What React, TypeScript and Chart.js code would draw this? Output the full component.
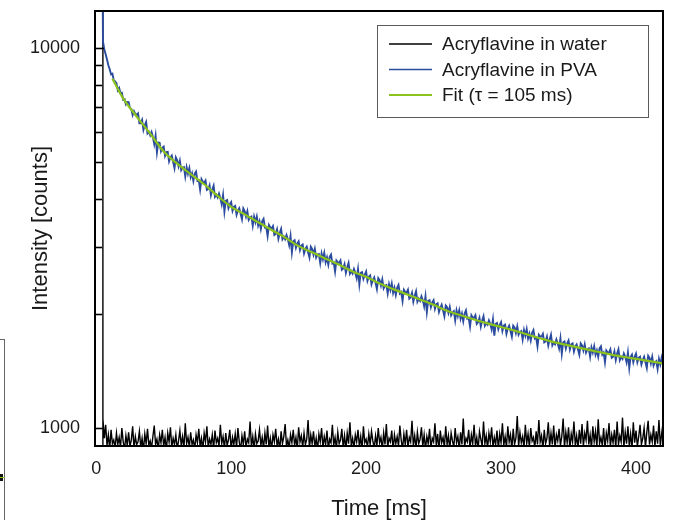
import React, { useEffect, useRef } from "react";
import { Chart, registerables } from "chart.js";

Chart.register(...registerables);

const FONT = "'Liberation Sans', Arial, Helvetica, sans-serif";

const SERIES_LABELS = ["Acryflavine in water", "Acryflavine in PVA", "Fit (\u03c4 = 105 ms)"];
const SERIES_COLORS = ["#000000", "#2b4c9e", "#8cc21c"];

const X_TICKS = [0, 100, 200, 300, 400];
const Y_TICKS = [1000, 2000, 3000, 4000, 5000, 6000, 7000, 8000, 9000, 10000];
const Y_LABELED = [1000, 10000];

// Acryflavine in water: rise edge, then one sample per ms starting at 5 ms
const WATER_LEAD_T = [4.6, 4.9];
const WATER_LEAD_V = [500, 40000];
const WATER_T0 = 5;
const WATER_STEP = 1;
const WATER_V = [
  1060, 940, 1020, 900, 960, 880, 990, 910, 930, 885, 970, 905, 945, 890, 1000, 920, 880, 955, 900, 975,
  895, 930, 1010, 885, 950, 905, 920, 980, 890, 940, 870, 965, 910, 995, 900, 925, 885, 950, 1015, 905,
  935, 880, 960, 915, 990, 895, 945, 875, 970, 920, 1005, 890, 940, 905, 960, 880, 925, 985, 900, 950,
  885, 1030, 910, 945, 890, 975, 905, 930, 880, 960, 915, 995, 895, 940, 875, 970, 920, 1010, 890, 935,
  905, 960, 880, 985, 915, 940, 895, 1020, 910, 950, 885, 970, 900, 930, 990, 880, 945, 905, 965, 890,
  1000, 920, 875, 955, 905, 980, 890, 935, 915, 1040, 895, 950, 880, 965, 910, 925, 990, 900, 945, 885,
  970, 905, 1015, 890, 940, 880, 960, 920, 995, 900, 935, 875, 980, 910, 950, 1025, 895, 930, 885, 960,
  915, 990, 900, 945, 880, 1005, 920, 955, 890, 970, 905, 935, 1050, 885, 960, 910, 980, 895, 940, 875,
  965, 920, 1000, 890, 950, 905, 985, 880, 935, 915, 1020, 900, 945, 885, 975, 910, 930, 995, 890, 955,
  880, 970, 910, 1035, 900, 940, 885, 960, 920, 990, 895, 950, 875, 1010, 915, 935, 890, 965, 905, 980,
  925, 885, 955, 900, 1000, 915, 945, 880, 970, 905, 1025, 890, 940, 920, 985, 875, 960, 910, 950, 895,
  1015, 930, 880, 965, 905, 990, 890, 945, 920, 1045, 900, 955, 885, 975, 910, 935, 1005, 895, 960, 880,
  950, 910, 995, 885, 940, 920, 1030, 900, 965, 875, 985, 915, 945, 890, 1010, 905, 955, 880, 970, 925,
  890, 1000, 915, 950, 880, 975, 905, 1060, 895, 940, 920, 990, 885, 960, 910, 1020, 900, 945, 875, 980,
  935, 895, 1040, 910, 955, 885, 970, 920, 1005, 890, 945, 905, 985, 880, 965, 915, 1030, 900, 950, 890,
  1010, 920, 960, 880, 995, 905, 940, 1075, 895, 975, 915, 950, 885, 1020, 910, 965, 890, 1000, 925, 945,
  885, 980, 905, 1050, 920, 955, 880, 990, 910, 940, 1035, 895, 970, 905, 1015, 885, 960, 925, 995, 900,
  950, 1060, 890, 975, 915, 1005, 880, 965, 920, 1040, 900, 955, 885, 990, 910, 1025, 895, 970, 930, 1045,
  905, 960, 885, 1010, 920, 980, 890, 1055, 910, 945, 900, 1000, 880, 970, 925, 1030, 895, 960, 915, 990,
  885, 1040, 905, 955, 920, 1065, 890, 975, 910, 1010, 900, 965, 880, 1035, 915, 985, 895, 950, 1020, 905,
  940, 1000, 890, 975, 1045, 905, 960, 920, 1015, 895, 980, 910, 1050, 900, 965, 1030, 920, 990,
];

// Acryflavine in PVA: rise edge, then one sample per ms starting at 6 ms
const PVA_LEAD_T = [4, 5];
const PVA_LEAD_V = [40000, 10400];
const PVA_T0 = 6;
const PVA_STEP = 1;
const PVA_V = [
  9900, 9620, 9330, 9010,
  8790, 8520, 8560, 8220, 8170, 8080, 7740, 7850, 7600, 7620,
  7300, 7330, 7110, 7210, 7200, 6950, 6910, 6660, 6820, 6710,
  6670, 6730, 6340, 6340, 6470, 6090, 6270, 6390, 5960, 6020,
  5890, 6010, 5830, 5590, 5880, 5310, 5640, 5630, 5350, 5460,
  5500, 5200, 5320, 5330, 5030, 5150, 5210, 5020, 4830, 5150,
  5060, 4880, 5050, 4770, 4840, 4860, 4590, 4850, 4670, 4830,
  4570, 4680, 4470, 4670, 4730, 4470, 4490, 4240, 4520, 4450,
  4420, 4480, 4230, 4250, 4350, 4100, 4240, 4340, 4060, 4110,
  4040, 4140, 4030, 3880, 4100, 3710, 3960, 3980, 3790, 3880,
  3930, 3730, 3820, 3840, 3640, 3740, 3790, 3660, 3540, 3780,
  3720, 3600, 3720, 3530, 3580, 3600, 3410, 3600, 3480, 3600,
  3410, 3500, 3340, 3500, 3550, 3370, 3380, 3200, 3420, 3370,
  3350, 3400, 3220, 3240, 3330, 3150, 3260, 3340, 3140, 3190,
  3140, 3220, 3140, 3030, 3200, 2900, 3100, 3120, 2980, 3060,
  3100, 2940, 3020, 3040, 2880, 2960, 3000, 2900, 2810, 3000,
  2960, 2860, 2960, 2810, 2860, 2870, 2720, 2880, 2780, 2890,
  2730, 2810, 2690, 2820, 2860, 2710, 2730, 2580, 2760, 2730,
  2720, 2760, 2610, 2630, 2700, 2560, 2650, 2720, 2550, 2590,
  2550, 2620, 2560, 2480, 2620, 2390, 2560, 2570, 2470, 2530,
  2580, 2440, 2500, 2520, 2390, 2450, 2490, 2410, 2320, 2480,
  2450, 2370, 2460, 2330, 2370, 2380, 2260, 2390, 2310, 2400,
  2270, 2340, 2240, 2340, 2380, 2260, 2280, 2160, 2310, 2280,
  2270, 2310, 2190, 2210, 2270, 2150, 2230, 2290, 2150, 2190,
  2160, 2220, 2170, 2090, 2220, 2020, 2160, 2170, 2080, 2140,
  2170, 2060, 2120, 2130, 2020, 2070, 2110, 2040, 1970, 2100,
  2080, 2010, 2080, 1980, 2010, 2030, 1920, 2040, 1970, 2040,
  1940, 2000, 1910, 2000, 2040, 1940, 1950, 1850, 1980, 1950,
  1950, 1980, 1880, 1900, 1950, 1850, 1920, 1970, 1860, 1890,
  1870, 1920, 1880, 1820, 1930, 1750, 1880, 1890, 1820, 1870,
  1900, 1800, 1860, 1870, 1770, 1830, 1860, 1800, 1740, 1860,
  1840, 1780, 1850, 1760, 1790, 1800, 1710, 1810, 1750, 1820,
  1720, 1770, 1700, 1780, 1810, 1720, 1730, 1640, 1760, 1740,
  1740, 1770, 1680, 1690, 1740, 1650, 1710, 1760, 1650, 1680,
  1660, 1710, 1670, 1620, 1720, 1570, 1680, 1690, 1620, 1670,
  1700, 1610, 1660, 1670, 1590, 1640, 1660, 1610, 1560, 1670,
  1650, 1600, 1660, 1580, 1610, 1620, 1540, 1630, 1580, 1640,
  1560, 1600, 1540, 1620, 1640, 1560, 1580, 1490, 1600, 1580,
  1580, 1610, 1530, 1540, 1590, 1510, 1570, 1610, 1510, 1540,
  1520, 1570, 1540, 1490, 1580, 1440, 1540, 1560, 1490, 1540,
  1570, 1490, 1530, 1540, 1470, 1510, 1540, 1490, 1440, 1550,
  1530, 1480, 1540, 1460, 1490, 1500, 1430, 1520, 1470, 1530,
  1470,
];

// Fit curve
const FIT_T = [12, 20, 30, 40, 50, 60, 70, 80, 90, 100, 110, 120, 130, 140, 150, 160, 170, 180, 190, 200,
  210, 220, 230, 240, 250, 260, 270, 280, 290, 300, 310, 320, 330, 340, 350, 360, 370, 380, 390, 400, 410, 420];
const FIT_V = [8300, 7370, 6600, 5950, 5340, 4960, 4660, 4380, 4080, 3820, 3650, 3480, 3320, 3170, 3010, 2900,
  2790, 2690, 2580, 2500, 2400, 2320, 2250, 2180, 2110, 2035, 1980, 1930, 1885, 1845, 1805, 1760, 1718, 1680,
  1650, 1620, 1592, 1565, 1540, 1520, 1500, 1480];

function sampled(leadT: number[], leadV: number[], t0: number, step: number, vals: number[]) {
  const pts = leadT.map((t, i) => ({ x: t, y: leadV[i] }));
  vals.forEach((v, i) => pts.push({ x: t0 + i * step, y: v }));
  return pts;
}

const framePlugin = {
  id: "frameAndLegend",
  afterDatasetsDraw(chart: any) {
    const { ctx, chartArea } = chart;
    const yScale = chart.scales.y;
    ctx.save();
    ctx.strokeStyle = "#000";
    ctx.lineWidth = 1.6;
    Y_TICKS.forEach((v) => {
      const y = Math.round(yScale.getPixelForValue(v)) + 0.5;
      const len = Y_LABELED.includes(v) ? 9 : 7;
      ctx.beginPath();
      ctx.moveTo(chartArea.left, y);
      ctx.lineTo(chartArea.left + len, y);
      ctx.stroke();
    });
    ctx.lineWidth = 2;
    ctx.strokeRect(chartArea.left, chartArea.top, chartArea.right - chartArea.left, chartArea.bottom - chartArea.top);

    const bx = 377, by = 25, bw = 271, bh = 92;
    ctx.fillStyle = "#fff";
    ctx.fillRect(bx, by, bw, bh);
    ctx.lineWidth = 1;
    ctx.strokeStyle = "#5a5a5a";
    ctx.strokeRect(bx + 0.5, by + 0.5, bw, bh);
    ctx.font = `19px ${FONT}`;
    ctx.textBaseline = "middle";
    ctx.textAlign = "left";
    SERIES_LABELS.forEach((label, i) => {
      const y = 44 + i * 25.5;
      ctx.strokeStyle = SERIES_COLORS[i];
      ctx.lineWidth = i === 2 ? 2 : 1.5;
      ctx.beginPath();
      ctx.moveTo(389, y);
      ctx.lineTo(432, y);
      ctx.stroke();
      ctx.fillStyle = "#1a1a1a";
      ctx.fillText(label, 442, y + 1);
    });
    ctx.restore();
  },
};

export default function App() {
  const ref = useRef<HTMLCanvasElement | null>(null);
  useEffect(() => {
    if (!ref.current) return;
    const chart = new Chart(ref.current, {
      type: "line",
      data: {
        datasets: [
          {
            label: SERIES_LABELS[0],
            data: sampled(WATER_LEAD_T, WATER_LEAD_V, WATER_T0, WATER_STEP, WATER_V),
            borderColor: SERIES_COLORS[0],
            borderWidth: 1.4,
            pointRadius: 0,
            tension: 0,
            order: 2,
          },
          {
            label: SERIES_LABELS[1],
            data: sampled(PVA_LEAD_T, PVA_LEAD_V, PVA_T0, PVA_STEP, PVA_V),
            borderColor: SERIES_COLORS[1],
            borderWidth: 1.9,
            pointRadius: 0,
            tension: 0,
            order: 1,
          },
          {
            label: SERIES_LABELS[2],
            data: FIT_T.map((t, i) => ({ x: t, y: FIT_V[i] })),
            borderColor: SERIES_COLORS[2],
            borderWidth: 2.2,
            pointRadius: 0,
            cubicInterpolationMode: "monotone",
            order: 0,
          },
        ],
      },
      options: {
        animation: false,
        responsive: true,
        maintainAspectRatio: false,
        layout: { padding: { top: 11, right: 30, left: 0, bottom: 0 } },
        plugins: { legend: { display: false }, tooltip: { enabled: false } },
        scales: {
          x: {
            type: "linear",
            min: -0.9,
            max: 420,
            afterBuildTicks: (s: any) => {
              s.ticks = X_TICKS.map((v) => ({ value: v }));
            },
            afterFit: (s: any) => {
              s.height = 74;
              s.paddingLeft = 0;
              s.paddingRight = 0;
            },
            grid: { display: false, drawTicks: false },
            border: { display: false },
            ticks: {
              padding: 12,
              color: "#1a1a1a",
              maxRotation: 0,
              autoSkip: false,
              font: { size: 18, family: FONT },
            },
            title: {
              display: true,
              text: "Time [ms]",
              color: "#1a1a1a",
              padding: { top: 0, bottom: 0 },
              font: { size: 22, family: FONT, lineHeight: 1 },
            },
          },
          y: {
            type: "logarithmic",
            min: 897,
            max: 12510,
            afterBuildTicks: (s: any) => {
              s.ticks = Y_TICKS.map((v) => ({ value: v }));
            },
            afterFit: (s: any) => {
              s.width = 95;
              s.paddingTop = 0;
              s.paddingBottom = 0;
            },
            grid: { display: false, drawTicks: false },
            border: { display: false },
            ticks: {
              padding: 15,
              color: "#1a1a1a",
              autoSkip: false,
              font: { size: 18, family: FONT },
              callback: (v: any) => (Y_LABELED.includes(Number(v)) ? String(v) : ""),
            },
            title: {
              display: true,
              text: "Intensity [counts]",
              color: "#1a1a1a",
              padding: { top: 30, bottom: 0 },
              font: { size: 22, family: FONT, lineHeight: 1 },
            },
          },
        },
      },
      plugins: [framePlugin],
    } as any);
    return () => chart.destroy();
  }, []);

  return (
    <div style={{ position: "absolute", left: 0, top: 0, width: 693, height: 520, overflow: "hidden", background: "#fff" }}>
      <div style={{ position: "absolute", left: -10, top: 339, width: 13, height: 200, border: "1px solid #666" }} />
      <div style={{ position: "absolute", left: 0, top: 474, width: 3, height: 7, background: "#111" }} />
      <div style={{ position: "absolute", left: 0, top: 477, width: 5, height: 1, background: "#8cc21c" }} />
      <div style={{ position: "absolute", left: 0, top: 0, width: 693, height: 520 }}>
        <canvas ref={ref} />
      </div>
    </div>
  );
}
